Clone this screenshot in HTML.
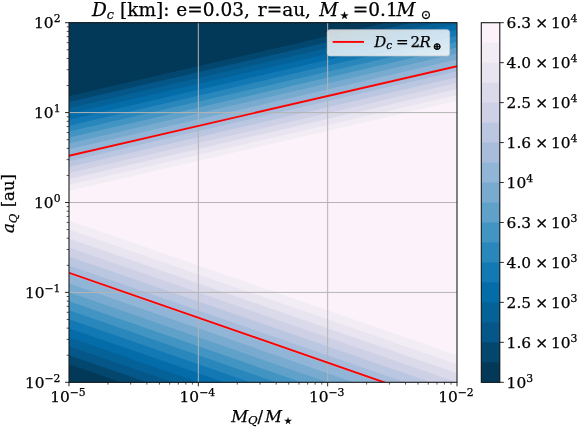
<!DOCTYPE html>
<html lang="en"><head><meta charset="utf-8"><title>D_c contour plot</title>
<style>html,body{margin:0;padding:0;background:#fff}svg{display:block}text{stroke:#000;stroke-width:.25px}</style></head>
<body>
<svg width="578" height="428" viewBox="0 0 578 428" font-family="'DejaVu Serif','Liberation Serif',serif" fill="#000">
<rect width="578" height="428" fill="#fff"/>
<defs><clipPath id="ax"><rect x="69.0" y="22.7" width="388.00" height="359.60"/></clipPath></defs>
<g clip-path="url(#ax)" shape-rendering="geometricPrecision">
<rect x="69.0" y="22.7" width="388.00" height="359.60" fill="#fbf3f9"/>
<polygon points="67.00,197.14 459.00,106.31 459.00,-400 67.00,-400" fill="#fbf3f9"/>
<polygon points="67.00,191.22 459.00,100.39 459.00,-400 67.00,-400" fill="#f2ecf5"/>
<polygon points="67.00,185.30 459.00,94.48 459.00,-400 67.00,-400" fill="#e8e4f0"/>
<polygon points="67.00,179.39 459.00,88.56 459.00,-400 67.00,-400" fill="#dbdaeb"/>
<polygon points="67.00,173.47 459.00,82.64 459.00,-400 67.00,-400" fill="#ced0e6"/>
<polygon points="67.00,167.56 459.00,76.73 459.00,-400 67.00,-400" fill="#bbc7e0"/>
<polygon points="67.00,161.64 459.00,70.81 459.00,-400 67.00,-400" fill="#a7bddb"/>
<polygon points="67.00,155.72 459.00,64.90 459.00,-400 67.00,-400" fill="#91b5d6"/>
<polygon points="67.00,149.81 459.00,58.98 459.00,-400 67.00,-400" fill="#79abd0"/>
<polygon points="67.00,143.89 459.00,53.06 459.00,-400 67.00,-400" fill="#60a1ca"/>
<polygon points="67.00,137.98 459.00,47.15 459.00,-400 67.00,-400" fill="#4295c3"/>
<polygon points="67.00,132.06 459.00,41.23 459.00,-400 67.00,-400" fill="#2987bc"/>
<polygon points="67.00,126.14 459.00,35.32 459.00,-400 67.00,-400" fill="#1379b5"/>
<polygon points="67.00,120.23 459.00,29.40 459.00,-400 67.00,-400" fill="#056caa"/>
<polygon points="67.00,114.31 459.00,23.48 459.00,-400 67.00,-400" fill="#046299"/>
<polygon points="67.00,108.40 459.00,17.57 459.00,-400 67.00,-400" fill="#045788"/>
<polygon points="67.00,102.48 459.00,11.65 459.00,-400 67.00,-400" fill="#03476f"/>
<polygon points="67.00,96.56 459.00,5.74 459.00,-400 67.00,-400" fill="#023858"/>
<polygon points="67.00,210.84 459.00,347.09 459.00,900 67.00,900" fill="#fbf3f9"/>
<polygon points="67.00,219.82 459.00,356.07 459.00,900 67.00,900" fill="#f2ecf5"/>
<polygon points="67.00,228.80 459.00,365.05 459.00,900 67.00,900" fill="#e8e4f0"/>
<polygon points="67.00,237.78 459.00,374.03 459.00,900 67.00,900" fill="#dbdaeb"/>
<polygon points="67.00,246.76 459.00,383.01 459.00,900 67.00,900" fill="#ced0e6"/>
<polygon points="67.00,255.74 459.00,391.99 459.00,900 67.00,900" fill="#bbc7e0"/>
<polygon points="67.00,264.72 459.00,400.97 459.00,900 67.00,900" fill="#a7bddb"/>
<polygon points="67.00,273.70 459.00,409.95 459.00,900 67.00,900" fill="#91b5d6"/>
<polygon points="67.00,282.68 459.00,418.93 459.00,900 67.00,900" fill="#79abd0"/>
<polygon points="67.00,291.66 459.00,427.91 459.00,900 67.00,900" fill="#60a1ca"/>
<polygon points="67.00,300.64 459.00,436.89 459.00,900 67.00,900" fill="#4295c3"/>
<polygon points="67.00,309.62 459.00,445.87 459.00,900 67.00,900" fill="#2987bc"/>
<polygon points="67.00,318.60 459.00,454.85 459.00,900 67.00,900" fill="#1379b5"/>
<polygon points="67.00,327.58 459.00,463.83 459.00,900 67.00,900" fill="#056caa"/>
<polygon points="67.00,336.56 459.00,472.81 459.00,900 67.00,900" fill="#046299"/>
<polygon points="67.00,345.54 459.00,481.79 459.00,900 67.00,900" fill="#045788"/>
<polygon points="67.00,354.52 459.00,490.77 459.00,900 67.00,900" fill="#03476f"/>
<polygon points="67.00,363.50 459.00,499.75 459.00,900 67.00,900" fill="#023858"/>
<line x1="198.33" y1="22.7" x2="198.33" y2="382.3" stroke="#b4b4b4" stroke-width="1"/>
<line x1="327.67" y1="22.7" x2="327.67" y2="382.3" stroke="#b4b4b4" stroke-width="1"/>
<line x1="69.0" y1="112.60" x2="457.0" y2="112.60" stroke="#b4b4b4" stroke-width="1"/>
<line x1="69.0" y1="202.50" x2="457.0" y2="202.50" stroke="#b4b4b4" stroke-width="1"/>
<line x1="69.0" y1="292.40" x2="457.0" y2="292.40" stroke="#b4b4b4" stroke-width="1"/>
<line x1="69.0" y1="155.80" x2="457.0" y2="66.2" stroke="#ff0000" stroke-width="1.9"/>
<line x1="69.0" y1="272.80" x2="457.0" y2="407.65" stroke="#ff0000" stroke-width="1.9"/>
</g>
<rect x="327.3" y="29.8" width="122.3" height="26.1" rx="2.6" fill="#fff" fill-opacity="0.8" stroke="#ccc" stroke-opacity="0.8" stroke-width="1"/>
<line x1="332.6" y1="41.9" x2="364" y2="41.9" stroke="#ff0000" stroke-width="1.9"/>
<text y="46.9" font-size="15" font-style="italic"><tspan x="374.3">D</tspan><tspan font-size="10.5" dy="2.2">c</tspan><tspan x="396" dy="-2.2" font-style="normal">=</tspan><tspan x="410.6" font-style="normal">2</tspan><tspan x="419.6">R</tspan><tspan x="432.8" font-size="10" dy="2.6" font-style="normal" stroke-width="0.6">⊕</tspan></text>
<rect x="69.0" y="22.7" width="388.00" height="359.60" fill="none" stroke="#1c1c1c" stroke-width="1.1"/>
<line x1="69.00" y1="382.3" x2="69.00" y2="386.30" stroke="#111" stroke-width="0.9"/>
<line x1="107.93" y1="382.3" x2="107.93" y2="384.60" stroke="#111" stroke-width="0.7"/>
<line x1="130.71" y1="382.3" x2="130.71" y2="384.60" stroke="#111" stroke-width="0.7"/>
<line x1="146.87" y1="382.3" x2="146.87" y2="384.60" stroke="#111" stroke-width="0.7"/>
<line x1="159.40" y1="382.3" x2="159.40" y2="384.60" stroke="#111" stroke-width="0.7"/>
<line x1="169.64" y1="382.3" x2="169.64" y2="384.60" stroke="#111" stroke-width="0.7"/>
<line x1="178.30" y1="382.3" x2="178.30" y2="384.60" stroke="#111" stroke-width="0.7"/>
<line x1="185.80" y1="382.3" x2="185.80" y2="384.60" stroke="#111" stroke-width="0.7"/>
<line x1="192.42" y1="382.3" x2="192.42" y2="384.60" stroke="#111" stroke-width="0.7"/>
<line x1="198.33" y1="382.3" x2="198.33" y2="386.30" stroke="#111" stroke-width="0.9"/>
<line x1="237.27" y1="382.3" x2="237.27" y2="384.60" stroke="#111" stroke-width="0.7"/>
<line x1="260.04" y1="382.3" x2="260.04" y2="384.60" stroke="#111" stroke-width="0.7"/>
<line x1="276.20" y1="382.3" x2="276.20" y2="384.60" stroke="#111" stroke-width="0.7"/>
<line x1="288.73" y1="382.3" x2="288.73" y2="384.60" stroke="#111" stroke-width="0.7"/>
<line x1="298.97" y1="382.3" x2="298.97" y2="384.60" stroke="#111" stroke-width="0.7"/>
<line x1="307.63" y1="382.3" x2="307.63" y2="384.60" stroke="#111" stroke-width="0.7"/>
<line x1="315.13" y1="382.3" x2="315.13" y2="384.60" stroke="#111" stroke-width="0.7"/>
<line x1="321.75" y1="382.3" x2="321.75" y2="384.60" stroke="#111" stroke-width="0.7"/>
<line x1="327.67" y1="382.3" x2="327.67" y2="386.30" stroke="#111" stroke-width="0.9"/>
<line x1="366.60" y1="382.3" x2="366.60" y2="384.60" stroke="#111" stroke-width="0.7"/>
<line x1="389.37" y1="382.3" x2="389.37" y2="384.60" stroke="#111" stroke-width="0.7"/>
<line x1="405.53" y1="382.3" x2="405.53" y2="384.60" stroke="#111" stroke-width="0.7"/>
<line x1="418.07" y1="382.3" x2="418.07" y2="384.60" stroke="#111" stroke-width="0.7"/>
<line x1="428.31" y1="382.3" x2="428.31" y2="384.60" stroke="#111" stroke-width="0.7"/>
<line x1="436.97" y1="382.3" x2="436.97" y2="384.60" stroke="#111" stroke-width="0.7"/>
<line x1="444.47" y1="382.3" x2="444.47" y2="384.60" stroke="#111" stroke-width="0.7"/>
<line x1="451.08" y1="382.3" x2="451.08" y2="384.60" stroke="#111" stroke-width="0.7"/>
<line x1="457.00" y1="382.3" x2="457.00" y2="386.30" stroke="#111" stroke-width="0.9"/>
<line x1="69.0" y1="382.30" x2="65.00" y2="382.30" stroke="#111" stroke-width="0.9"/>
<line x1="69.0" y1="355.24" x2="66.70" y2="355.24" stroke="#111" stroke-width="0.7"/>
<line x1="69.0" y1="339.41" x2="66.70" y2="339.41" stroke="#111" stroke-width="0.7"/>
<line x1="69.0" y1="328.17" x2="66.70" y2="328.17" stroke="#111" stroke-width="0.7"/>
<line x1="69.0" y1="319.46" x2="66.70" y2="319.46" stroke="#111" stroke-width="0.7"/>
<line x1="69.0" y1="312.34" x2="66.70" y2="312.34" stroke="#111" stroke-width="0.7"/>
<line x1="69.0" y1="306.33" x2="66.70" y2="306.33" stroke="#111" stroke-width="0.7"/>
<line x1="69.0" y1="301.11" x2="66.70" y2="301.11" stroke="#111" stroke-width="0.7"/>
<line x1="69.0" y1="296.51" x2="66.70" y2="296.51" stroke="#111" stroke-width="0.7"/>
<line x1="69.0" y1="292.40" x2="65.00" y2="292.40" stroke="#111" stroke-width="0.9"/>
<line x1="69.0" y1="265.34" x2="66.70" y2="265.34" stroke="#111" stroke-width="0.7"/>
<line x1="69.0" y1="249.51" x2="66.70" y2="249.51" stroke="#111" stroke-width="0.7"/>
<line x1="69.0" y1="238.27" x2="66.70" y2="238.27" stroke="#111" stroke-width="0.7"/>
<line x1="69.0" y1="229.56" x2="66.70" y2="229.56" stroke="#111" stroke-width="0.7"/>
<line x1="69.0" y1="222.44" x2="66.70" y2="222.44" stroke="#111" stroke-width="0.7"/>
<line x1="69.0" y1="216.43" x2="66.70" y2="216.43" stroke="#111" stroke-width="0.7"/>
<line x1="69.0" y1="211.21" x2="66.70" y2="211.21" stroke="#111" stroke-width="0.7"/>
<line x1="69.0" y1="206.61" x2="66.70" y2="206.61" stroke="#111" stroke-width="0.7"/>
<line x1="69.0" y1="202.50" x2="65.00" y2="202.50" stroke="#111" stroke-width="0.9"/>
<line x1="69.0" y1="175.44" x2="66.70" y2="175.44" stroke="#111" stroke-width="0.7"/>
<line x1="69.0" y1="159.61" x2="66.70" y2="159.61" stroke="#111" stroke-width="0.7"/>
<line x1="69.0" y1="148.37" x2="66.70" y2="148.37" stroke="#111" stroke-width="0.7"/>
<line x1="69.0" y1="139.66" x2="66.70" y2="139.66" stroke="#111" stroke-width="0.7"/>
<line x1="69.0" y1="132.54" x2="66.70" y2="132.54" stroke="#111" stroke-width="0.7"/>
<line x1="69.0" y1="126.53" x2="66.70" y2="126.53" stroke="#111" stroke-width="0.7"/>
<line x1="69.0" y1="121.31" x2="66.70" y2="121.31" stroke="#111" stroke-width="0.7"/>
<line x1="69.0" y1="116.71" x2="66.70" y2="116.71" stroke="#111" stroke-width="0.7"/>
<line x1="69.0" y1="112.60" x2="65.00" y2="112.60" stroke="#111" stroke-width="0.9"/>
<line x1="69.0" y1="85.54" x2="66.70" y2="85.54" stroke="#111" stroke-width="0.7"/>
<line x1="69.0" y1="69.71" x2="66.70" y2="69.71" stroke="#111" stroke-width="0.7"/>
<line x1="69.0" y1="58.47" x2="66.70" y2="58.47" stroke="#111" stroke-width="0.7"/>
<line x1="69.0" y1="49.76" x2="66.70" y2="49.76" stroke="#111" stroke-width="0.7"/>
<line x1="69.0" y1="42.64" x2="66.70" y2="42.64" stroke="#111" stroke-width="0.7"/>
<line x1="69.0" y1="36.63" x2="66.70" y2="36.63" stroke="#111" stroke-width="0.7"/>
<line x1="69.0" y1="31.41" x2="66.70" y2="31.41" stroke="#111" stroke-width="0.7"/>
<line x1="69.0" y1="26.81" x2="66.70" y2="26.81" stroke="#111" stroke-width="0.7"/>
<line x1="69.0" y1="22.70" x2="65.00" y2="22.70" stroke="#111" stroke-width="0.9"/>
<text x="60.50" y="387.90" font-size="15.4" text-anchor="end">10<tspan font-size="10.8" dy="-6.0">−2</tspan></text>
<text x="60.50" y="298.00" font-size="15.4" text-anchor="end">10<tspan font-size="10.8" dy="-6.0">−1</tspan></text>
<text x="60.50" y="208.10" font-size="15.4" text-anchor="end">10<tspan font-size="10.8" dy="-6.0">0</tspan></text>
<text x="60.50" y="118.20" font-size="15.4" text-anchor="end">10<tspan font-size="10.8" dy="-6.0">1</tspan></text>
<text x="60.50" y="28.30" font-size="15.4" text-anchor="end">10<tspan font-size="10.8" dy="-6.0">2</tspan></text>
<text x="68.00" y="402.00" font-size="15.4" text-anchor="middle">10<tspan font-size="10.8" dy="-6.0">−5</tspan></text>
<text x="197.33" y="402.00" font-size="15.4" text-anchor="middle">10<tspan font-size="10.8" dy="-6.0">−4</tspan></text>
<text x="326.67" y="402.00" font-size="15.4" text-anchor="middle">10<tspan font-size="10.8" dy="-6.0">−3</tspan></text>
<text x="456.00" y="402.00" font-size="15.4" text-anchor="middle">10<tspan font-size="10.8" dy="-6.0">−2</tspan></text>
<text transform="translate(14.4,203.5) rotate(-90)" font-size="16.5" text-anchor="middle"><tspan font-style="italic">a</tspan><tspan font-style="italic" font-size="11.6" dy="2.6">Q</tspan><tspan dy="-2.6" dx="1"> [au]</tspan></text>
<text y="421.5" font-size="16.5" font-style="italic"><tspan x="231.2">M</tspan><tspan font-size="11.6" dy="2.6">Q</tspan><tspan dy="-2.6" font-style="normal">/</tspan><tspan x="265">M</tspan><tspan x="283.6" font-size="8.8" dy="2.8" font-style="normal">★</tspan></text>
<text y="15.6" font-size="18.5"><tspan x="92" font-style="italic">D</tspan><tspan font-style="italic" font-size="12.9" dy="2.9">c</tspan><tspan x="120" dy="-2.9">[km]:</tspan><tspan x="176.3">e=0.03,</tspan><tspan x="257.8">r=au,</tspan><tspan x="319.2" font-style="italic">M</tspan><tspan x="340.3" font-size="10.4" dy="3.4">★</tspan><tspan x="352.8" font-size="18.5" dy="-3.4">=0.1</tspan><tspan x="396.6" font-style="italic">M</tspan><tspan x="420.8" font-size="12.9" dy="3.2">⊙</tspan></text>
<rect x="481.3" y="22.70" width="18.50" height="359.60" fill="#fbf3f9"/>
<rect x="481.3" y="42.68" width="18.50" height="339.62" fill="#f2ecf5"/>
<rect x="481.3" y="62.66" width="18.50" height="319.64" fill="#e8e4f0"/>
<rect x="481.3" y="82.63" width="18.50" height="299.67" fill="#dbdaeb"/>
<rect x="481.3" y="102.61" width="18.50" height="279.69" fill="#ced0e6"/>
<rect x="481.3" y="122.59" width="18.50" height="259.71" fill="#bbc7e0"/>
<rect x="481.3" y="142.57" width="18.50" height="239.73" fill="#a7bddb"/>
<rect x="481.3" y="162.54" width="18.50" height="219.76" fill="#91b5d6"/>
<rect x="481.3" y="182.52" width="18.50" height="199.78" fill="#79abd0"/>
<rect x="481.3" y="202.50" width="18.50" height="179.80" fill="#60a1ca"/>
<rect x="481.3" y="222.48" width="18.50" height="159.82" fill="#4295c3"/>
<rect x="481.3" y="242.46" width="18.50" height="139.84" fill="#2987bc"/>
<rect x="481.3" y="262.43" width="18.50" height="119.87" fill="#1379b5"/>
<rect x="481.3" y="282.41" width="18.50" height="99.89" fill="#056caa"/>
<rect x="481.3" y="302.39" width="18.50" height="79.91" fill="#046299"/>
<rect x="481.3" y="322.37" width="18.50" height="59.93" fill="#045788"/>
<rect x="481.3" y="342.34" width="18.50" height="39.96" fill="#03476f"/>
<rect x="481.3" y="362.32" width="18.50" height="19.98" fill="#023858"/>
<rect x="481.3" y="22.7" width="18.50" height="359.60" fill="none" stroke="#1c1c1c" stroke-width="1.1"/>
<line x1="499.8" y1="382.30" x2="503.80" y2="382.30" stroke="#111" stroke-width="0.9"/>
<text x="506.6" y="387.60" font-size="15.4">10<tspan font-size="10.8" dy="-6.0">3</tspan></text>
<line x1="499.8" y1="342.34" x2="503.80" y2="342.34" stroke="#111" stroke-width="0.9"/>
<text x="506.6" y="347.64" font-size="15.4">1.6<tspan x="535.2">×</tspan><tspan x="551">10</tspan><tspan font-size="10.8" dy="-6.0">3</tspan></text>
<line x1="499.8" y1="302.39" x2="503.80" y2="302.39" stroke="#111" stroke-width="0.9"/>
<text x="506.6" y="307.69" font-size="15.4">2.5<tspan x="535.2">×</tspan><tspan x="551">10</tspan><tspan font-size="10.8" dy="-6.0">3</tspan></text>
<line x1="499.8" y1="262.43" x2="503.80" y2="262.43" stroke="#111" stroke-width="0.9"/>
<text x="506.6" y="267.73" font-size="15.4">4.0<tspan x="535.2">×</tspan><tspan x="551">10</tspan><tspan font-size="10.8" dy="-6.0">3</tspan></text>
<line x1="499.8" y1="222.48" x2="503.80" y2="222.48" stroke="#111" stroke-width="0.9"/>
<text x="506.6" y="227.78" font-size="15.4">6.3<tspan x="535.2">×</tspan><tspan x="551">10</tspan><tspan font-size="10.8" dy="-6.0">3</tspan></text>
<line x1="499.8" y1="182.52" x2="503.80" y2="182.52" stroke="#111" stroke-width="0.9"/>
<text x="506.6" y="187.82" font-size="15.4">10<tspan font-size="10.8" dy="-6.0">4</tspan></text>
<line x1="499.8" y1="142.57" x2="503.80" y2="142.57" stroke="#111" stroke-width="0.9"/>
<text x="506.6" y="147.87" font-size="15.4">1.6<tspan x="535.2">×</tspan><tspan x="551">10</tspan><tspan font-size="10.8" dy="-6.0">4</tspan></text>
<line x1="499.8" y1="102.61" x2="503.80" y2="102.61" stroke="#111" stroke-width="0.9"/>
<text x="506.6" y="107.91" font-size="15.4">2.5<tspan x="535.2">×</tspan><tspan x="551">10</tspan><tspan font-size="10.8" dy="-6.0">4</tspan></text>
<line x1="499.8" y1="62.66" x2="503.80" y2="62.66" stroke="#111" stroke-width="0.9"/>
<text x="506.6" y="67.96" font-size="15.4">4.0<tspan x="535.2">×</tspan><tspan x="551">10</tspan><tspan font-size="10.8" dy="-6.0">4</tspan></text>
<line x1="499.8" y1="22.70" x2="503.80" y2="22.70" stroke="#111" stroke-width="0.9"/>
<text x="506.6" y="28.00" font-size="15.4">6.3<tspan x="535.2">×</tspan><tspan x="551">10</tspan><tspan font-size="10.8" dy="-6.0">4</tspan></text>
</svg>
</body></html>
